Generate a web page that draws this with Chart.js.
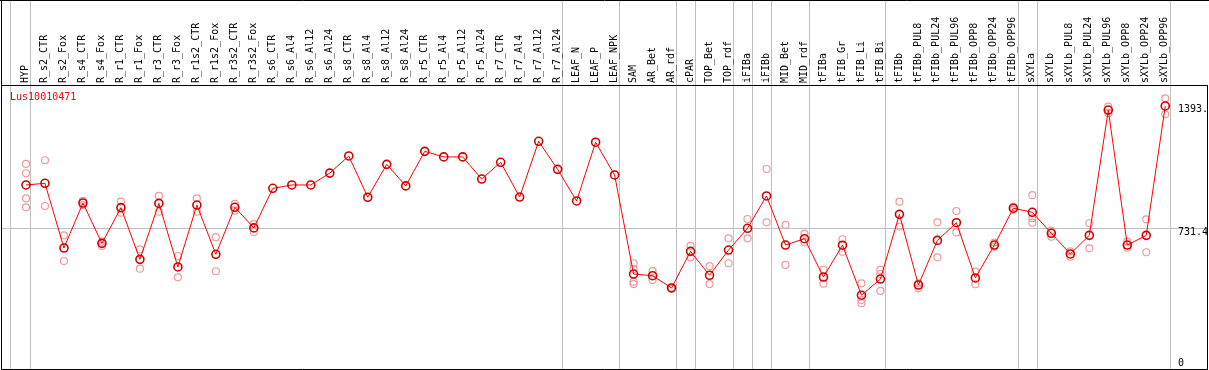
<!DOCTYPE html>
<html>
<head>
<meta charset="utf-8">
<script src="https://cdn.jsdelivr.net/npm/chart.js@4"></script>
<style>
  html, body { margin: 0; padding: 0; background: #fff; }
  canvas { display: block; }
</style>
</head>
<body>
<canvas id="myChart" width="1209" height="370"></canvas>
<script>
const sampleNames = ["HYP", "R_s2_CTR", "R_s2_Fox", "R_s4_CTR", "R_s4_Fox", "R_r1_CTR", "R_r1_Fox", "R_r3_CTR", "R_r3_Fox",
    "R_r1s2_CTR", "R_r1s2_Fox", "R_r3s2_CTR", "R_r3s2_Fox", "R_s6_CTR", "R_s6_Al4", "R_s6_Al12", "R_s6_Al24",
    "R_s8_CTR", "R_s8_Al4", "R_s8_Al12", "R_s8_Al24", "R_r5_CTR", "R_r5_Al4", "R_r5_Al12", "R_r5_Al24",
    "R_r7_CTR", "R_r7_Al4", "R_r7_Al12", "R_r7_Al24", "LEAF_N", "LEAF_P", "LEAF_NPK", "SAM", "AR_Bet", "AR_rdf",
    "cPAR", "TOP_Bet", "TOP_rdf", "iFIBa", "iFIBb", "MID_Bet", "MID_rdf", "tFIBa", "tFIB_Gr", "tFIB_Li", "tFIB_Bi",
    "tFIBb", "tFIBb_PUL8", "tFIBb_PUL24", "tFIBb_PUL96", "tFIBb_OPP8", "tFIBb_OPP24", "tFIBb_OPP96", "sXYLa",
    "sXYLb", "sXYLb_PUL8", "sXYLb_PUL24", "sXYLb_PUL96", "sXYLb_OPP8", "sXYLb_OPP24", "sXYLb_OPP96"];

const meanValues = [963, 972, 624, 866, 649, 841, 563, 864, 522, 855, 590, 843, 732, 945, 963, 963, 1027,
    1119, 897, 1074, 958, 1144, 1114, 1114, 995, 1085, 898, 1198, 1047, 877, 1193, 1017, 484, 475, 409,
    606, 477, 613, 730, 904, 640, 674, 468, 639, 370, 457, 805, 425, 665, 760, 463, 640, 838, 816,
    703, 592, 692, 1366, 640, 692, 1388];

const replicateValues = [[1076, 1026, 891, 843], [1096, 850], [692, 554], [877, 855], [658, 635], [873, 814],
    [617, 513], [904, 819], [581, 466], [891, 819], [682, 499], [861, 825], [752, 710], [], [], [], [],
    [], [], [], [], [], [], [], [], [], [], [], [], [], [], [], [542, 511, 443, 430], [500, 452], [405, 412],
    [635, 574], [527, 430], [676, 542], [780, 676], [1049, 762], [748, 533], [701, 656], [507, 432], [671, 604],
    [434, 344, 327], [506, 484, 393], [873, 739], [434, 407], [762, 574], [823, 708], [497, 429], [653, 631],
    [845, 830], [908, 784, 760], [717, 685], [577, 606], [757, 622], [1384, 1349], [658, 626], [778, 601],
    [1429, 1343]];

const yTickValues = [0, 731.4, 1393];
const geneName = "Lus10010471";

// group separators sit just right of these samples
const groupEnds = [0, 28, 31, 34, 35, 37, 38, 39, 41, 45, 52, 53, 60];
const sepTicks = new Set([0, ...groupEnds.map(g => g + 1)]);

const monoFont = { family: "'DejaVu Sans Mono', monospace", size: 10 };

const meanPoints = meanValues.map((v, i) => ({ x: i, y: v }));
const repPoints = [];
replicateValues.forEach((reps, i) => reps.forEach(v => repPoints.push({ x: i, y: v })));

const noPad = (axis) => {
    axis.paddingLeft = 0;
    axis.paddingRight = 0;
    axis.paddingTop = 0;
    axis.paddingBottom = 0;
};

const framePlugin = {
    id: "frame",
    afterDraw(chart) {
        const c = chart.ctx;
        const area = chart.chartArea;
        c.save();
        c.strokeStyle = "#000";
        c.lineWidth = 1;
        c.beginPath();
        c.moveTo(0, 0.5); c.lineTo(chart.width, 0.5);
        c.moveTo(1.5, 0); c.lineTo(1.5, chart.height);
        c.moveTo(1, 85.5); c.lineTo(1208, 85.5);
        c.moveTo(1207.5, 85); c.lineTo(1207.5, 370);
        c.moveTo(1, 369.5); c.lineTo(1208, 369.5);
        c.stroke();
        c.fillStyle = "#f00";
        c.font = "10px 'DejaVu Sans Mono', monospace";
        c.textBaseline = "middle";
        c.fillText(geneName, chart.scales.x.getPixelForValue(-0.84), area.top + 12);
        c.restore();
    }
};

const ctx = document.getElementById("myChart").getContext("2d");
const chart = new Chart(ctx, {
    data: {
        datasets: [{
            type: "line",
            label: "mean",
            data: meanPoints,
            borderColor: "#f00",
            borderWidth: 1,
            pointRadius: 4,
            pointBorderColor: "#d00000",
            pointBackgroundColor: "rgba(0,0,0,0)",
            pointBorderWidth: 1.6,
            order: 0
        }, {
            type: "scatter",
            label: "replicates",
            data: repPoints,
            showLine: false,
            pointRadius: 3.5,
            pointBorderColor: "#f09a9a",
            pointBackgroundColor: "rgba(0,0,0,0)",
            pointBorderWidth: 1.2,
            order: 1
        }]
    },
    options: {
        responsive: false,
        animation: false,
        devicePixelRatio: 1,
        layout: { autoPadding: false, padding: { left: 1, right: 2, top: 0, bottom: 1 } },
        scales: {
            x: {
                type: "linear",
                position: "top",
                min: -1.316,
                max: 60.25,
                afterBuildTicks: (axis) => {
                    axis.ticks = [{ value: -0.84 }, ...sampleNames.map((n, i) => ({ value: i + 0.25 }))];
                },
                afterFit: (axis) => { axis.height = 85; noPad(axis); },
                border: { display: false },
                grid: {
                    color: (c) => sepTicks.has(c.index) ? "#c0c0c0" : "rgba(0,0,0,0)",
                    tickLength: 85,
                    lineWidth: 1
                },
                ticks: {
                    autoSkip: false,
                    minRotation: 90,
                    maxRotation: 90,
                    padding: -83,
                    labelOffset: 6.75,
                    color: "#000",
                    font: monoFont,
                    callback: (value, index) => index === 0 ? "" : sampleNames[index - 1]
                }
            },
            y: {
                type: "linear",
                position: "right",
                min: -26.9,
                max: 1500.8,
                afterBuildTicks: (axis) => {
                    axis.ticks = yTickValues.map(v => ({ value: v }));
                },
                afterFit: (axis) => { axis.width = 37; noPad(axis); },
                border: { display: false },
                grid: {
                    color: (c) => c.tick && c.tick.value === 731.4 ? "#c0c0c0" : "rgba(0,0,0,0)",
                    tickLength: 37
                },
                ticks: {
                    padding: -29,
                    labelOffset: 4,
                    color: "#000",
                    font: { family: monoFont.family, size: 10, lineHeight: 1.0 },
                    callback: (value) => value === 0 ? ["0", ""] : value === 1393 ? "1393." : "731.4"
                }
            }
        },
        plugins: {
            legend: { display: false },
            tooltip: { enabled: false }
        }
    },
    plugins: [framePlugin]
});
</script>
</body>
</html>
